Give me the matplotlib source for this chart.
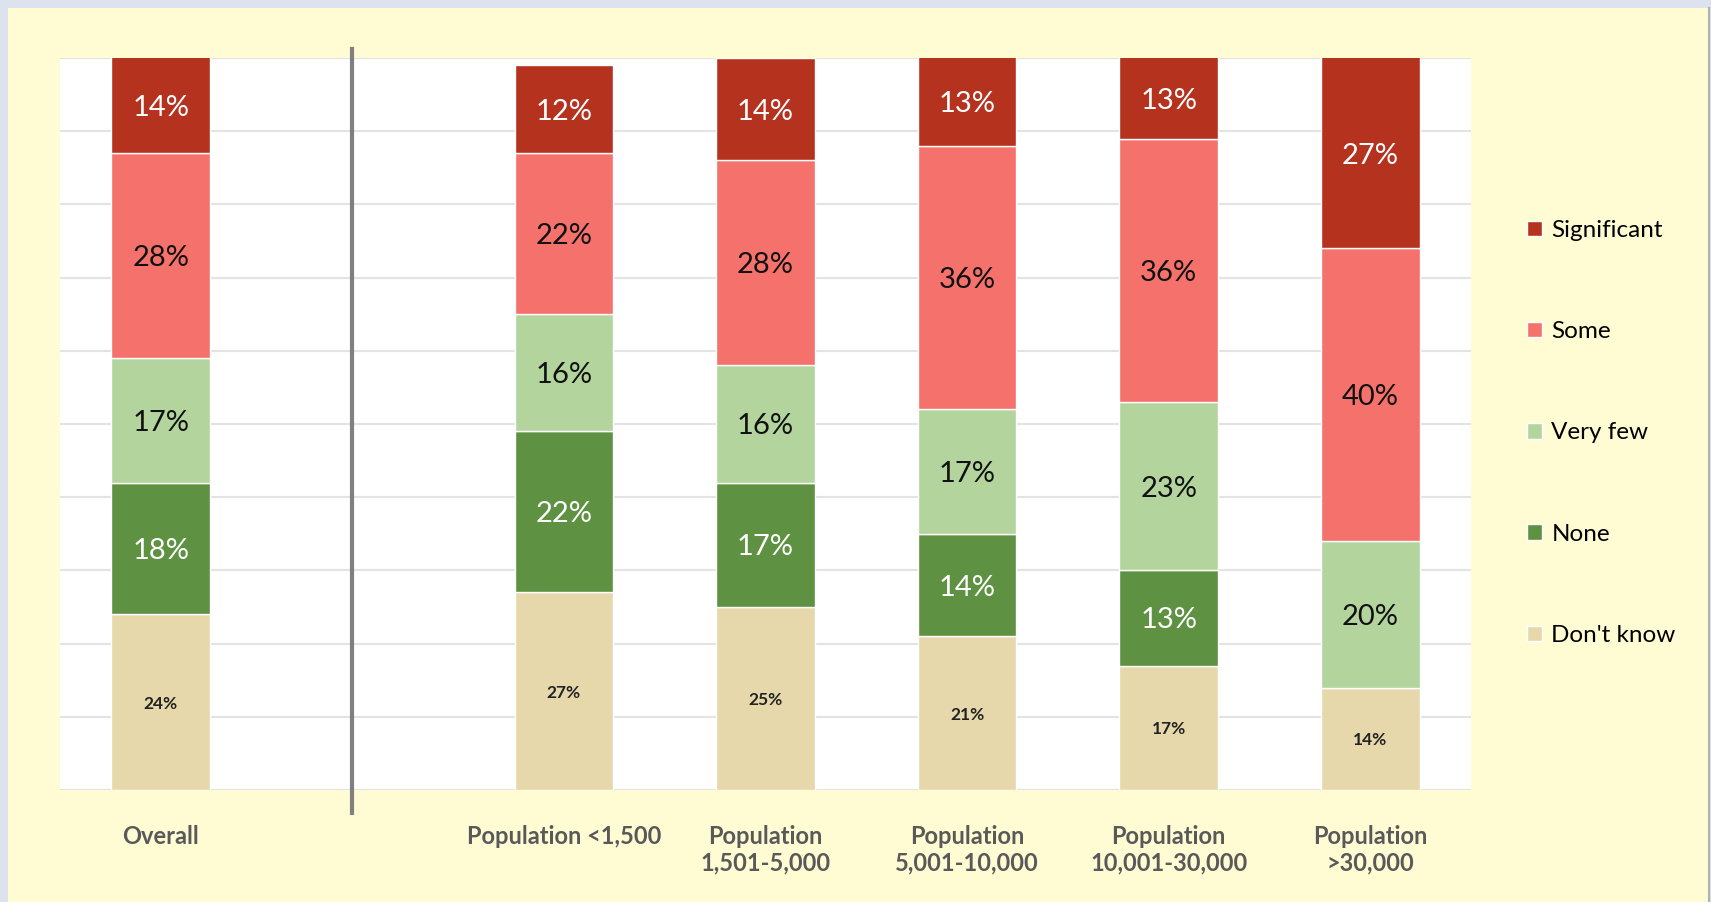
import matplotlib.pyplot as plt
from matplotlib.patches import Rectangle
from matplotlib.lines import Line2D

plt.rcParams['font.family'] = ['Lato', 'DejaVu Sans']

categories = ["Overall", "", "Population <1,500", "Population\n1,501-5,000",
              "Population\n5,001-10,000", "Population\n10,001-30,000",
              "Population\n>30,000"]
series = ["Don't know", "None", "Very few", "Some", "Significant"]
dont_know = [24, 0, 27, 25, 21, 17, 14]
none = [18, 0, 22, 17, 14, 13, 0]
very_few = [17, 0, 16, 16, 17, 23, 20]
some = [28, 0, 22, 28, 36, 36, 40]
significant = [14, 0, 12, 14, 13, 13, 27]

values = [dont_know, none, very_few, some, significant]
colors = ["#E6D8AB", "#5E9141", "#B3D49D", "#F4716C", "#B5321F"]
text_colors = ["#222222", "white", "#111111", "#111111", "white"]
label_sizes = [12.5, 21, 21, 21, 21]

fig = plt.figure(figsize=(17.11, 9.02), dpi=100, facecolor="#DCE3EE")
fig.add_artist(Rectangle((8 / 1711, 0), 1700 / 1711, 894 / 902,
                         transform=fig.transFigure, facecolor="#FFFCD4",
                         edgecolor="none", zorder=-10))
fig.add_artist(Line2D([1709 / 1711, 1709 / 1711], [0, 894 / 902],
                      transform=fig.transFigure, color="#B0B0B0", lw=1.5))

ax = fig.add_axes([60 / 1711, 112 / 902, 1411 / 1711, 732 / 902])
ax.set_facecolor("white")

x = list(range(len(categories)))
bottom = [0] * len(categories)
for vals, col, tcol, fs, name in zip(values, colors, text_colors, label_sizes, series):
    idx = [i for i, v in enumerate(vals) if v > 0]
    ax.bar([x[i] for i in idx], [vals[i] for i in idx],
           bottom=[bottom[i] for i in idx], width=0.49, color=col,
           edgecolor="white", linewidth=1, label=name, zorder=3)
    for i in idx:
        top = min(bottom[i] + vals[i], 100)
        ax.text(i, (bottom[i] + top) / 2, f"{vals[i]}%", ha="center",
                va="center_baseline", color=tcol, fontsize=fs, zorder=4,
                fontweight="bold" if fs < 15 else "normal")
    bottom = [b + v for b, v in zip(bottom, vals)]

ax.set_ylim(0, 100)
ax.set_xlim(-0.5, len(categories) - 0.5)
ax.set_yticks(range(0, 101, 10))
ax.yaxis.grid(True, color="#E3E3E3", linewidth=1.5, zorder=0)
ax.tick_params(axis="y", left=False, labelleft=False)
ax.tick_params(axis="x", length=0, pad=25, labelsize=17, labelcolor="#595959")
ax.set_xticks(x)
ax.set_xticklabels(categories, fontweight="bold", linespacing=1.2)
for s in ax.spines.values():
    s.set_visible(False)

# divider between overall and population groups
ax.axvline(0.95, ymin=-0.031, ymax=1.012, color="#808080", lw=3, clip_on=False, zorder=5)

handles, labels = ax.get_legend_handles_labels()
fig.legend(handles[::-1], labels[::-1], loc="center left",
           bbox_to_anchor=(1527 / 1711, 1 - 433 / 902), frameon=False,
           fontsize=17.5, handlelength=0.6, handleheight=0.6, handletextpad=0.4,
           labelspacing=3.3, borderpad=0, borderaxespad=0)

fig.savefig("out.png", dpi=100, facecolor=fig.get_facecolor())
